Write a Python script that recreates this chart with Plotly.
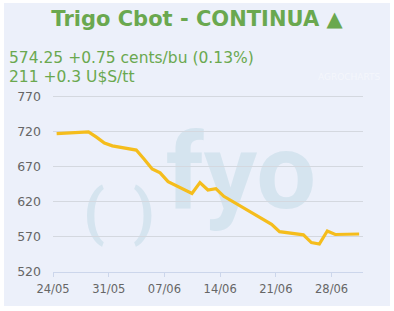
import pandas as pd
import plotly.graph_objects as go

# ---- data ----
dates = ["2024-05-24", "2024-05-28", "2024-05-29", "2024-05-30", "2024-05-31",
         "2024-06-03", "2024-06-04", "2024-06-05", "2024-06-06", "2024-06-07",
         "2024-06-10", "2024-06-11", "2024-06-12", "2024-06-13", "2024-06-14",
         "2024-06-17", "2024-06-18", "2024-06-20", "2024-06-21", "2024-06-24",
         "2024-06-25", "2024-06-26", "2024-06-27", "2024-06-28", "2024-07-01"]
values = [717.5, 720, 712.5, 704, 700,
          694, 681, 667, 661.5, 649,
          632, 647.5, 637, 639, 628,
          608.5, 602, 588, 577.5, 573,
          562, 560, 578.5, 573.5, 574.25]
x_tick_dates = ["2024-05-24", "2024-05-31", "2024-06-07", "2024-06-14", "2024-06-21", "2024-06-28"]
x_tick_labels = ["24/05", "31/05", "07/06", "14/06", "21/06", "28/06"]
y_ticks = [520, 570, 620, 670, 720, 770]

title_text = "Trigo Cbot - CONTINUA ▲"
line1_text = "574.25 +0.75 cents/bu (0.13%)"
line2_text = "211 +0.3 U$S/tt"

# ---- styling ----
W, H = 394, 311
Y_LO, Y_HI = 520, 774
ML, MR, MT, MB = 53, 31, 94, 39
PW, PH = W - ML - MR, H - MT - MB

def px_x(p):
    return (p - ML) / PW

def px_y(p):
    return (H - MB - p) / PH

PANEL = "#ECF0FA"
GREEN = "#6AA84F"
WM = "#D5E4EF"
FONT = "Verdana, DejaVu Sans, sans-serif"

x = pd.to_datetime(dates) + pd.Timedelta(hours=11)

fig = go.Figure()
fig.add_trace(go.Scatter(
    x=x, y=values, mode="lines",
    line=dict(color="#F5BD1C", width=3.2),
    hoverinfo="skip", showlegend=False,
))

shapes = [
    dict(type="rect", xref="paper", yref="paper", layer="below",
         x0=px_x(4), x1=px_x(390), y0=px_y(306), y1=px_y(3),
         fillcolor=PANEL, line=dict(width=0)),
]

def wm_label(text, cx, cy, size, family="Roboto"):
    return dict(type="rect", xref="paper", yref="paper", layer="below",
                x0=px_x(cx - 5), x1=px_x(cx + 5), y0=px_y(cy + 5), y1=px_y(cy - 5),
                fillcolor="rgba(0,0,0,0)", line=dict(width=0),
                label=dict(text=text, textposition="middle center",
                           font=dict(size=size, color=WM, family=family, weight="bold")))

shapes.append(wm_label("fyo", 241, 164, 106))
shapes.append(wm_label("(", 94, 207, 62))
shapes.append(wm_label(")", 144, 207, 62))

annotations = [
    dict(text=line1_text, xref="paper", yref="paper", x=px_x(7), y=px_y(57.5),
         xanchor="left", yanchor="middle", showarrow=False,
         font=dict(size=15.5, color=GREEN, family=FONT)),
    dict(text=line2_text, xref="paper", yref="paper", x=px_x(7), y=px_y(77),
         xanchor="left", yanchor="middle", showarrow=False,
         font=dict(size=15.5, color=GREEN, family=FONT)),
    dict(text="AGROCHARTS", xref="paper", yref="paper", x=px_x(349), y=px_y(77),
         xanchor="center", yanchor="middle", showarrow=False, opacity=0.45,
         font=dict(size=9, color="#FFFFFF", family=FONT)),
]

fig.update_layout(
    width=W, height=H,
    margin=dict(l=ML, r=MR, t=MT, b=MB, pad=0),
    paper_bgcolor="white",
    plot_bgcolor="rgba(0,0,0,0)",
    title=dict(text=title_text, x=0.5, xanchor="center", y=1 - 19 / H, yanchor="middle",
               font=dict(size=21, color=GREEN, family=FONT, weight="bold")),
    shapes=shapes,
    annotations=annotations,
    showlegend=False,
)

fig.update_xaxes(
    type="date",
    range=[pd.Timestamp("2024-05-24"), pd.Timestamp("2024-05-24") + pd.Timedelta(days=PW / 7.96)],
    tickvals=pd.to_datetime(x_tick_dates), ticktext=x_tick_labels,
    showgrid=False, zeroline=False,
    showline=True, linecolor="#CCD6EB", linewidth=1,
    ticks="outside", ticklen=4, tickcolor="#CCD6EB",
    ticklabelstandoff=2,
    tickfont=dict(size=11.5, color="#666666", family=FONT),
)
fig.update_yaxes(
    range=[Y_LO, Y_HI], tickvals=y_ticks,
    showgrid=True, gridcolor="#D4D8DF", gridwidth=1,
    zeroline=False, showline=False,
    ticks="", ticklabelstandoff=11,
    tickfont=dict(size=12.5, color="#666666", family=FONT),
)

fig.write_html("out.html")
